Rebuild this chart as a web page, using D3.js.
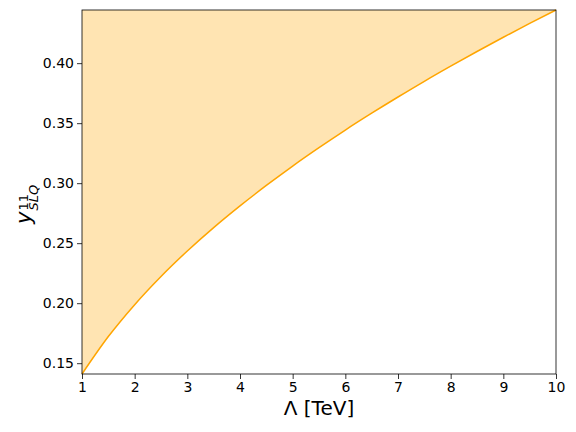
<!DOCTYPE html>
<html>
<head>
<meta charset="utf-8">
<script src="https://cdn.jsdelivr.net/npm/d3@7"></script>
<style>
  html, body { margin: 0; padding: 0; background: #fff; }
  svg { display: block; }
  text { font-family: "DejaVu Sans", sans-serif; fill: #000; }
</style>
</head>
<body>
<svg id="chart" width="576" height="432"></svg>
<script>
// Data
const lambdaTeV = [1.0, 1.5, 2.0, 2.5, 3.0, 3.5, 4.0, 4.5, 5.0, 5.5, 6.0, 6.5, 7.0, 7.5, 8.0, 8.5, 9.0, 9.5, 10.0];
const yBound    = [0.141, 0.1722, 0.1988, 0.2223, 0.2435, 0.2630, 0.2811, 0.2981, 0.3143, 0.3296, 0.3443, 0.3583, 0.3718, 0.3849, 0.3975, 0.4097, 0.4216, 0.4331, 0.4443];
const xTicks = [1, 2, 3, 4, 5, 6, 7, 8, 9, 10];
const yTicks = [0.15, 0.20, 0.25, 0.30, 0.35, 0.40];
const xDomain = [1, 10];
const yDomain = [0.141, 0.4443];

const W = 576, H = 432;
const margin = {left: 82, right: 20, top: 10, bottom: 58};
const svg = d3.select("#chart");

const x = d3.scaleLinear().domain(xDomain).range([margin.left, W - margin.right]);
const y = d3.scaleLinear().domain(yDomain).range([H - margin.bottom, margin.top]);

const pts = lambdaTeV.map((v, i) => ({x: v, y: yBound[i]}));

// Filled region between curve and top of axes
const area = d3.area()
  .x(d => x(d.x))
  .y0(() => y(yDomain[1]))
  .y1(d => y(d.y))
  .curve(d3.curveMonotoneX);

svg.append("path")
  .datum(pts)
  .attr("d", area)
  .attr("fill", "#ffa500")
  .attr("fill-opacity", 0.3)
  .attr("stroke", "none");

const line = d3.line()
  .x(d => x(d.x))
  .y(d => y(d.y))
  .curve(d3.curveMonotoneX);

svg.append("path")
  .datum(pts)
  .attr("d", line)
  .attr("fill", "none")
  .attr("stroke", "#ffa500")
  .attr("stroke-width", 1.5);

// Axes
const xAxis = d3.axisBottom(x).tickValues(xTicks).tickFormat(d3.format("d")).tickSize(5).tickPadding(3);
const yAxis = d3.axisLeft(y).tickValues(yTicks).tickFormat(d3.format(".2f")).tickSize(5).tickPadding(3);

const gx = svg.append("g").attr("transform", `translate(0,${H - margin.bottom})`).call(xAxis);
const gy = svg.append("g").attr("transform", `translate(${margin.left},0)`).call(yAxis);
[gx, gy].forEach(g => {
  g.select(".domain").remove();
  g.selectAll(".tick line").attr("stroke", "#000").attr("stroke-width", 0.8);
  g.selectAll(".tick text").attr("font-family", "DejaVu Sans").attr("font-size", 14).attr("fill", "#000");
});

// Frame (spines)
svg.append("rect")
  .attr("x", margin.left).attr("y", margin.top)
  .attr("width", W - margin.left - margin.right)
  .attr("height", H - margin.top - margin.bottom)
  .attr("fill", "none").attr("stroke", "#000").attr("stroke-width", 0.8);

// X label
svg.append("text")
  .attr("x", (margin.left + W - margin.right) / 2)
  .attr("y", 415)
  .attr("text-anchor", "middle")
  .attr("font-size", 20)
  .text("Λ [TeV]");

// Y label: y_{SLQ}^{11}
const yl = svg.append("g").attr("transform", "translate(31,224) rotate(-90)");
const main = yl.append("text").attr("x", 0).attr("y", 0)
  .attr("font-size", 21).attr("font-style", "italic").text("y");
const wy = main.node().getComputedTextLength();
yl.append("text").attr("x", wy + 1).attr("y", 7)
  .attr("font-size", 13).attr("font-style", "italic").text("SLQ");
yl.append("text").attr("x", wy + 1).attr("y", -3)
  .attr("font-size", 13).text("11");
</script>
</body>
</html>
